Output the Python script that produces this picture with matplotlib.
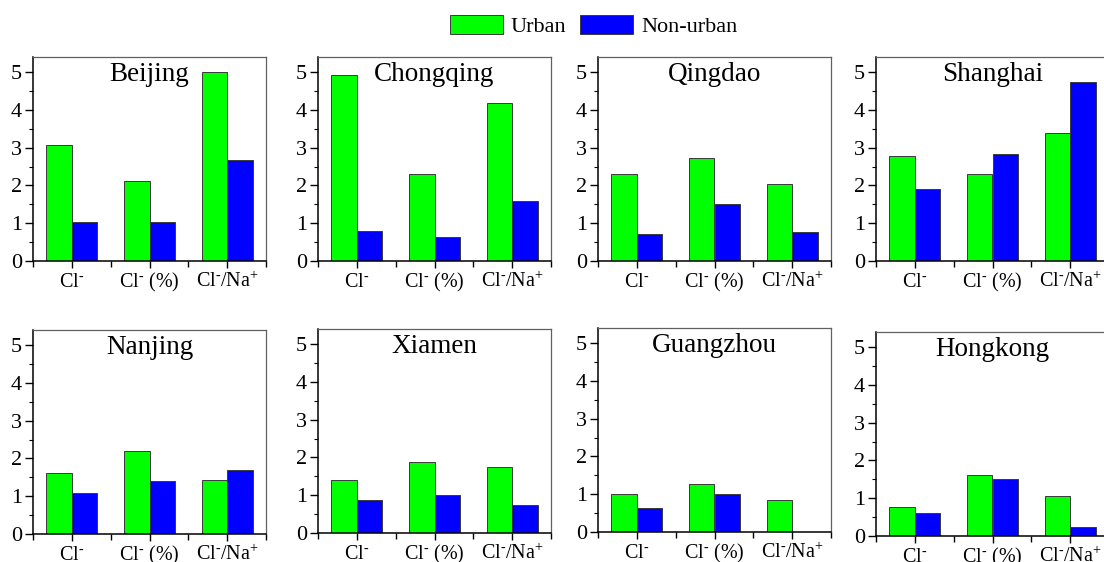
import matplotlib
matplotlib.use("Agg")
import matplotlib.pyplot as plt
import numpy as np
from matplotlib.patches import Patch
from matplotlib.ticker import MultipleLocator

plt.rcParams['font.family'] = ['Liberation Serif', 'DejaVu Serif']
plt.rcParams['mathtext.fontset'] = 'custom'
plt.rcParams['mathtext.rm'] = 'Liberation Serif'
plt.rcParams['mathtext.it'] = 'Liberation Serif:italic'
plt.rcParams['mathtext.bf'] = 'Liberation Serif:bold'

cities = ["Beijing", "Chongqing", "Qingdao", "Shanghai",
          "Nanjing", "Xiamen", "Guangzhou", "Hongkong"]
categories = [r"Cl$^{\text{-}}$", r"Cl$^{\text{-}}$ (%)", r"Cl$^{\text{-}}$/Na$^{\text{+}}$"]
series_names = ["Urban", "Non-urban"]

urban = {
    "Beijing":   [3.07, 2.11, 5.00],
    "Chongqing": [4.92, 2.29, 4.17],
    "Qingdao":   [2.31, 2.73, 2.04],
    "Shanghai":  [2.78, 2.30, 3.40],
    "Nanjing":   [1.61, 2.20, 1.44],
    "Xiamen":    [1.39, 1.88, 1.74],
    "Guangzhou": [1.01, 1.27, 0.85],
    "Hongkong":  [0.77, 1.62, 1.06],
}
non_urban = {
    "Beijing":   [1.02, 1.02, 2.68],
    "Chongqing": [0.80, 0.63, 1.60],
    "Qingdao":   [0.72, 1.50, 0.76],
    "Shanghai":  [1.90, 2.84, 4.75],
    "Nanjing":   [1.09, 1.40, 1.69],
    "Xiamen":    [0.88, 1.00, 0.75],
    "Guangzhou": [0.63, 1.01, 0.0],
    "Hongkong":  [0.62, 1.51, 0.23],
}

GREEN = "#00FF00"
BLUE = "#0000FF"
EDGE = "#3a3a3a"

W, H = 1104, 562
fig = plt.figure(figsize=(W / 100, H / 100), dpi=100)

# axes rectangles in pixels: left, (top y, zero-line y)
lefts = [33, 318, 598, 876]
top_row = [(57, 261)] * 4
bottom_row = [(330, 534), (329, 533), (328, 532), (332, 536)]
width_px = 233

x = np.arange(1, len(categories) + 1)
bw = 0.33

for i, city in enumerate(cities):
    row = i // 4
    col = i % 4
    top, zero = (top_row if row == 0 else bottom_row)[col]
    rect = [lefts[col] / W, 1 - zero / H, width_px / W, (zero - top) / H]
    ax = fig.add_axes(rect)
    ax.bar(x - bw / 2, urban[city], bw, color=GREEN, edgecolor=EDGE, linewidth=0.7)
    ax.bar(x + bw / 2, non_urban[city], bw, color=BLUE, edgecolor=EDGE, linewidth=0.7)
    ax.set_xlim(0.5, 3.5)
    ax.set_ylim(0, 5.4)
    ax.set_xticks(x)
    ax.set_xticklabels(categories, fontsize=14.5)
    for lbl in ax.get_xticklabels():
        lbl.set_verticalalignment('baseline')
    ax.xaxis.set_minor_locator(MultipleLocator(1.0, offset=0.5))
    ax.set_yticks([0, 1, 2, 3, 4, 5])
    ax.yaxis.set_minor_locator(MultipleLocator(0.5))
    ax.tick_params(axis='y', which='major', direction='out', length=6, width=1,
                   labelsize=16, pad=2)
    ax.tick_params(axis='y', which='minor', direction='out', length=3, width=0.8)
    ax.tick_params(axis='x', which='major', direction='out', length=5, width=1, pad=14)
    ax.tick_params(axis='x', which='minor', direction='out', length=4, width=1)
    for s in ['left', 'bottom']:
        ax.spines[s].set_color('black')
        ax.spines[s].set_linewidth(1.1)
    for s in ['top', 'right']:
        ax.spines[s].set_color('#606060')
        ax.spines[s].set_linewidth(0.9)
    ax.text(0.5, 0.975, city, transform=ax.transAxes, ha='center', va='top',
            fontsize=19.5)

handles = [Patch(facecolor=GREEN, edgecolor=EDGE, linewidth=0.7),
           Patch(facecolor=BLUE, edgecolor=EDGE, linewidth=0.7)]
fig.legend(handles, series_names, loc='center', bbox_to_anchor=(593.5 / W, 1 - 26 / H),
           ncol=2, frameon=False, fontsize=16, handlelength=2.4, handleheight=0.95,
           handletextpad=0.35, columnspacing=0.6, borderpad=0)

fig.savefig("out.png", dpi=100)
